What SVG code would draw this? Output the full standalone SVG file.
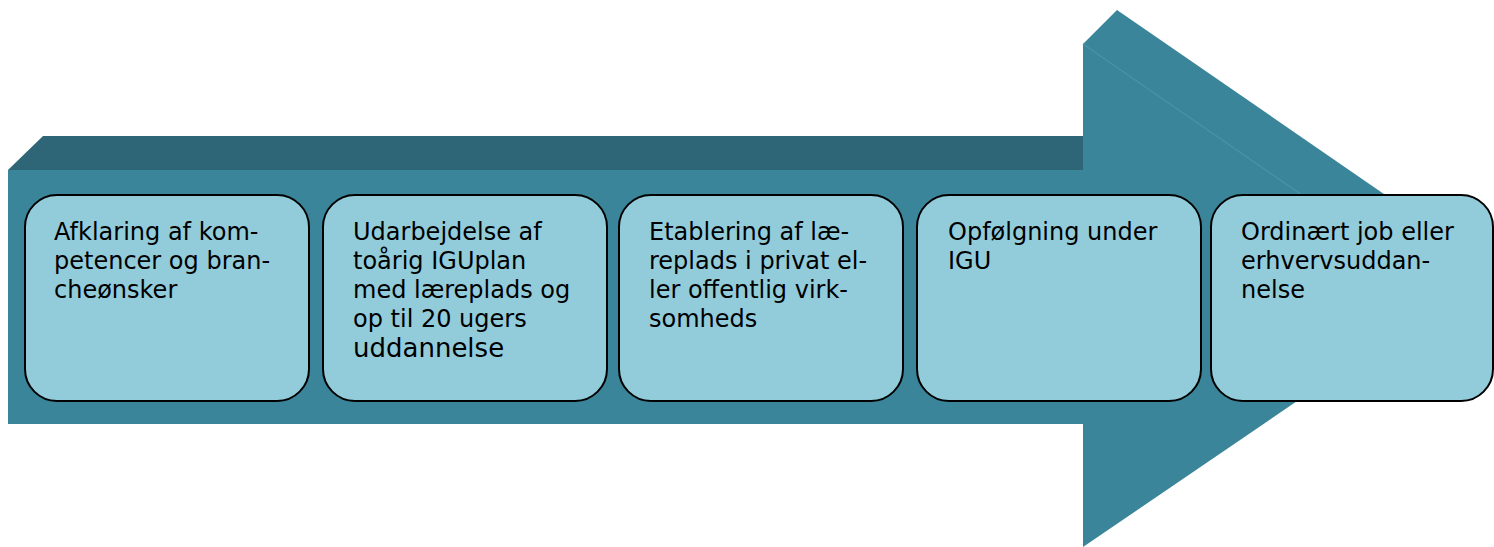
<svg xmlns="http://www.w3.org/2000/svg" width="1494" height="547" viewBox="0 0 1494 547">
<style>
.box{fill:#92ccdb;stroke:#000;stroke-width:2}
.t{font-family:"DejaVu Sans",Verdana,sans-serif;font-size:24px;fill:#000}
.front{fill:#3a8599}
.top{fill:#2e6677}
</style>
<g id="arrow">
<polygon class="top" points="8,170 43,136 1083,136 1083,170"/>
<rect class="front" x="8" y="170" width="1075" height="254"/>
<polygon class="front" points="1083,44 1117,10 1484,263 1450,297"/>
<polygon class="front" points="1083,44 1450,297 1083,547"/>
<line x1="1083" y1="44" x2="1450" y2="297" stroke="#4591a6" stroke-width="1.5"/>
</g>
<g id="node1">
<rect class="box" x="25" y="195" width="284" height="206" rx="32"/>
<text class="t" x="54" y="240">Afklaring af kom-</text>
<text class="t" x="54" y="269">petencer og bran-</text>
<text class="t" x="54" y="298">cheønsker</text>
</g>
<g id="node2">
<rect class="box" x="323" y="195" width="284" height="206" rx="32"/>
<text class="t" x="353" y="240">Udarbejdelse af</text>
<text class="t" x="353" y="269">toårig IGUplan</text>
<text class="t" x="353" y="298">med læreplads og</text>
<text class="t" x="353" y="327">op til 20 ugers</text>
<text class="t" x="353" y="357" style="font-size:26px">uddannelse</text>
</g>
<g id="node3">
<rect class="box" x="619" y="195" width="284" height="206" rx="32"/>
<text class="t" x="649" y="240">Etablering af læ-</text>
<text class="t" x="649" y="269">replads i privat el-</text>
<text class="t" x="649" y="298">ler offentlig virk-</text>
<text class="t" x="649" y="327">somheds</text>
</g>
<g id="node4">
<rect class="box" x="917" y="195" width="284" height="206" rx="32"/>
<text class="t" x="948" y="240">Opfølgning under</text>
<text class="t" x="948" y="269">IGU</text>
</g>
<g id="node5">
<rect class="box" x="1211" y="195" width="282" height="206" rx="32"/>
<text class="t" x="1241" y="240">Ordinært job eller</text>
<text class="t" x="1241" y="269">erhvervsuddan-</text>
<text class="t" x="1241" y="298">nelse</text>
</g>
<g id="connectors"/>
</svg>
